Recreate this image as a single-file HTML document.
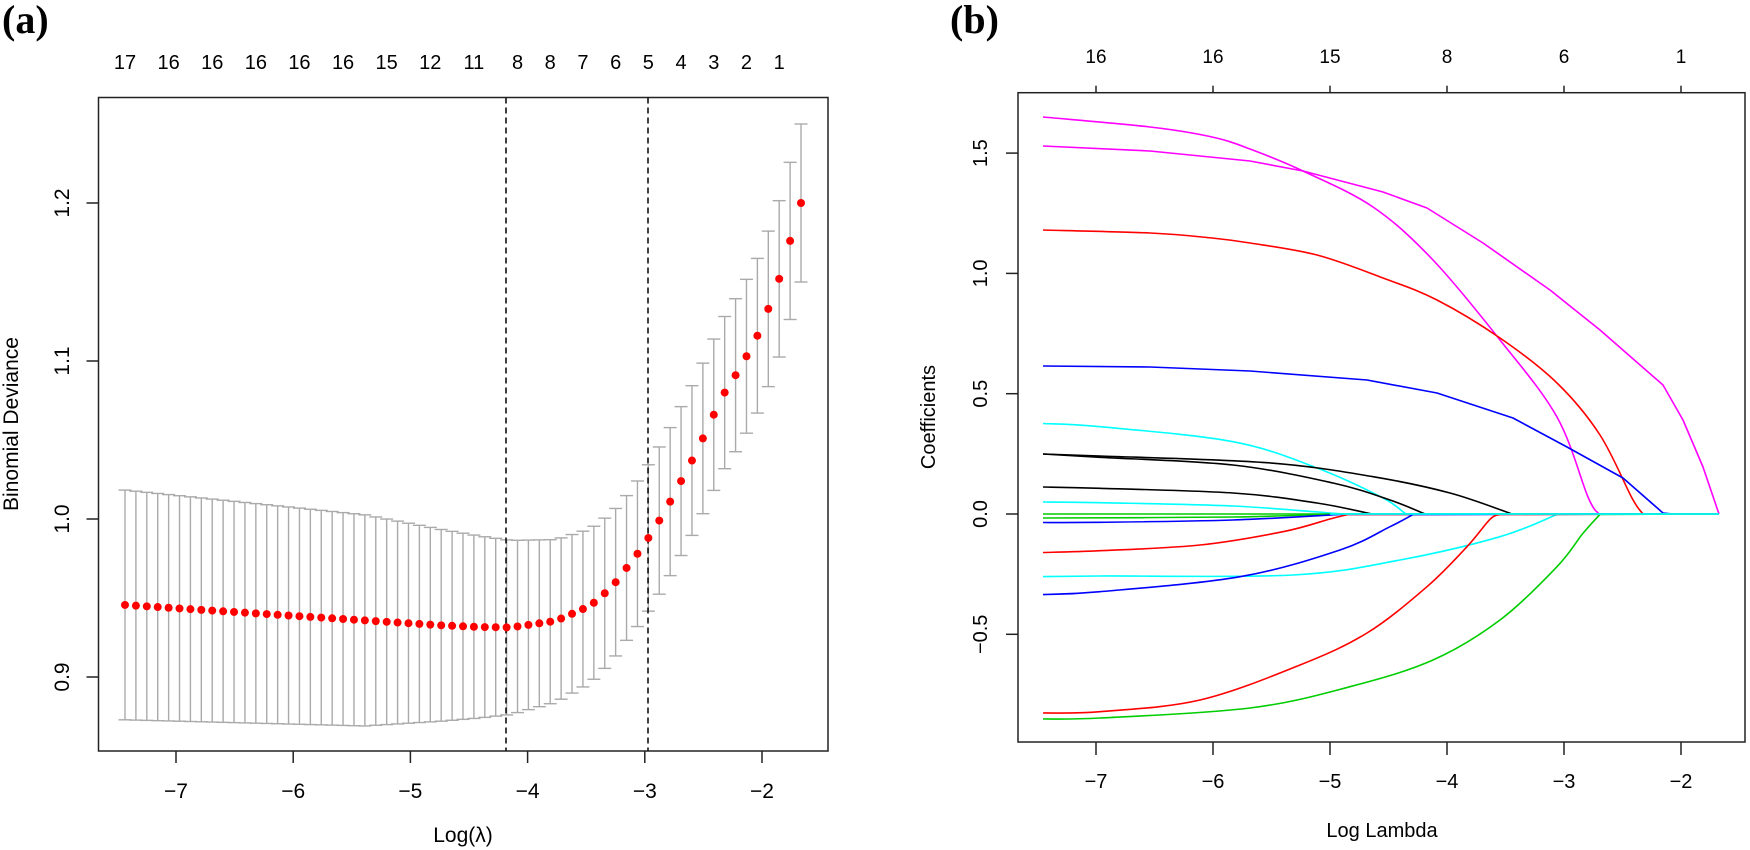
<!DOCTYPE html>
<html><head><meta charset="utf-8">
<style>
html,body{margin:0;padding:0;background:#fff;}
svg{display:block;}
text{font-family:"Liberation Sans",Arial,sans-serif;fill:#000;}
</style></head>
<body>
<svg id="s" width="1750" height="850" viewBox="0 0 1750 850" xmlns="http://www.w3.org/2000/svg">
<text x="2" y="33" style="font-family:'Liberation Serif',serif;font-weight:bold;font-size:40px">(a)</text>
<text x="950" y="33" style="font-family:'Liberation Serif',serif;font-weight:bold;font-size:40px">(b)</text>
<g id="ga"></g>
<g id="gb"></g>
</svg>
<script>
(function(){
var NS="http://www.w3.org/2000/svg";
function el(p,t,a,txt){var e=document.createElementNS(NS,t);for(var k in a)e.setAttribute(k,a[k]);if(txt!==undefined)e.textContent=txt;p.appendChild(e);return e;}
var ga=document.getElementById('ga'), gb=document.getElementById('gb');
// ---------- Panel a ----------
var L=98.5,R=828,T=97.5,B=751;
function ya(v){return 677-(v-0.9)*1580;}
function xa(v){return 176+(v+7)*117.2;}
var m=[];
for(var i=0;i<30;i++)m.push(0.9456-0.0129*i/29);
m=m.concat([0.9324,0.9321,0.9318,0.9316,0.9315,0.9314,0.932,0.933,0.934,0.935,0.937,0.940,0.943,0.947,0.953,0.960,0.969,0.978,0.988,0.999,1.011,1.024,1.037,1.051,1.066,1.080,1.091,1.103,1.116,1.133,1.152,1.176,1.200]);
function h(i){
 if(i<=22)return 0.0727-0.0059*i/22;
 if(i<=35)return 0.0668-0.0114*(i-22)/13;
 if(i<=46)return 0.0554-0.0096*(i-35)/11;
 return 0.0458+0.0042*(i-46)/16;
}
var g=el(ga,'g',{stroke:'#aaaaaa','stroke-width':1.4,fill:'none'});
for(var i=0;i<63;i++){
 var x=125+i*(801-125)/62, u=ya(m[i]+h(i)), d=ya(m[i]-h(i));
 el(g,'line',{x1:x,y1:u,x2:x,y2:d});
 el(g,'line',{x1:x-6.5,y1:u,x2:x+6.5,y2:u});
 el(g,'line',{x1:x-6.5,y1:d,x2:x+6.5,y2:d});
}
el(ga,'line',{x1:506,y1:T,x2:506,y2:B,stroke:'#000','stroke-width':1.5,'stroke-dasharray':'6,4'});
el(ga,'line',{x1:648,y1:T,x2:648,y2:B,stroke:'#000','stroke-width':1.5,'stroke-dasharray':'6,4'});
for(var i=0;i<63;i++){var x=125+i*(801-125)/62;el(ga,'circle',{cx:x,cy:ya(m[i]),r:4,fill:'#ff0000'});}
el(ga,'rect',{x:L,y:T,width:R-L,height:B-T,fill:'none',stroke:'#222','stroke-width':1.5});
for(var v=-7;v<=-2;v++){var x=xa(v);el(ga,'line',{x1:x,y1:B,x2:x,y2:B+12,stroke:'#222','stroke-width':1.5});
 el(ga,'text',{x:x,y:798,'text-anchor':'middle','font-size':21},'\u2212'+(-v));}
[0.9,1.0,1.1,1.2].forEach(function(v){var y=ya(v);el(ga,'line',{x1:L-12,y1:y,x2:L,y2:y,stroke:'#222','stroke-width':1.5});
 el(ga,'text',{x:69,y:y,'text-anchor':'middle','font-size':21,transform:'rotate(-90 69 '+y+')'},v.toFixed(1));});
el(ga,'text',{x:463,y:842,'text-anchor':'middle','font-size':21},'Log(\u03bb)');
el(ga,'text',{x:18,y:424,'text-anchor':'middle','font-size':21,transform:'rotate(-90 18 424)'},'Binomial Deviance');
var lab=[[0,17],[4,16],[8,16],[12,16],[16,16],[20,16],[24,15],[28,12],[32,11],[36,8],[39,8],[42,7],[45,6],[48,5],[51,4],[54,3],[57,2],[60,1]];
lab.forEach(function(p){var x=125+p[0]*(801-125)/62;el(ga,'text',{x:x,y:69,'text-anchor':'middle','font-size':20},String(p[1]));});
// ---------- Panel b ----------
var L2=1018,R2=1745,T2=92.7,B2=742;
function xb(v){return 1096+(v+7)*117;}
var Z=514, XE=1719;
var curves=[
 ['#ff00ff',[[1043,117],[1150,127],[1212,137],[1250,149],[1303,171],[1373,207],[1433,260],[1500,340],[1557,417],[1588,497],[1599,514]],1],
 ['#ff00ff',[[1043,146],[1150,151],[1250,161],[1303,171],[1383,192],[1427,208],[1483,243],[1550,290],[1600,330],[1663,385],[1683,420],[1703,467],[1719,514]],0],
 ['#ff0000',[[1043,230],[1150,233],[1212,238],[1250,243],[1317,255],[1383,278],[1437,300],[1500,338],[1557,383],[1600,435],[1632,498],[1643,514]],1],
 ['#0000ff',[[1043,366],[1150,367],[1250,371],[1367,380],[1437,393],[1513,418],[1567,447],[1623,478],[1663,513],[1673,514]],0],
 ['#00ffff',[[1043,423.5],[1100,426.7],[1233,441.7],[1317,468],[1383,498],[1405,513.3],[1410,514]],1],
 ['#000000',[[1043,454],[1100,456],[1267,462.7],[1373,476.7],[1450,493],[1512,514]],1],
 ['#000000',[[1043,454],[1100,457.3],[1233,465],[1333,483],[1390,500],[1425,514]],1],
 ['#000000',[[1043,487],[1100,488.3],[1233,493],[1317,503],[1372,514]],1],
 ['#00ffff',[[1043,502],[1100,502.7],[1233,506],[1333,513.3],[1340,514]],1],
 ['#00cd00',[[1043,514],[1333,514]],0],
 ['#00cd00',[[1043,518],[1233,517],[1333,514]],1],
 ['#0000ff',[[1043,522.5],[1100,522.3],[1233,520],[1340,514.5]],1],
 ['#ff0000',[[1043,552.5],[1100,550.7],[1200,545],[1283,531.7],[1330,519],[1348,514.5]],1],
 ['#00ffff',[[1043,576.6],[1100,576],[1293,575],[1400,560],[1500,536.7],[1557,514.5]],1],
 ['#0000ff',[[1043,594.6],[1100,591.7],[1240,576.7],[1340,550],[1390,526.7],[1413,514.5]],1],
 ['#ff0000',[[1043,713],[1100,711.7],[1200,700],[1300,665],[1367,633],[1427,586.7],[1467,546.7],[1490,519.3],[1500,514.5]],1],
 ['#00cd00',[[1043,719],[1100,718],[1250,708],[1350,686.7],[1433,660],[1500,620],[1557,566.7],[1583,533.3],[1600,514.3]],1]
];
function smooth(p){
 var d='M'+p[0][0]+','+p[0][1];
 for(var i=0;i<p.length-1;i++){
  var p0=p[i>0?i-1:i],p1=p[i],p2=p[i+1],p3=p[i+2<p.length?i+2:i+1];
  var c1x=p1[0]+(p2[0]-p0[0])/6,c1y=p1[1]+(p2[1]-p0[1])/6;
  var c2x=p2[0]-(p3[0]-p1[0])/6,c2y=p2[1]-(p3[1]-p1[1])/6;
  d+=' C'+c1x.toFixed(1)+','+c1y.toFixed(1)+' '+c2x.toFixed(1)+','+c2y.toFixed(1)+' '+p2[0]+','+p2[1];
 }
 return d;
}
function poly(p){return 'M'+p.map(function(q){return q[0]+','+q[1];}).join(' L');}
curves.forEach(function(c){
 var d=(c[2]?smooth(c[1]):poly(c[1]))+' L'+XE+','+Z;
 el(gb,'path',{d:d,fill:'none',stroke:c[0],'stroke-width':1.6,'stroke-linejoin':'round'});
});
el(gb,'line',{x1:1330,y1:Z,x2:XE,y2:Z,stroke:'#00ffff','stroke-width':1.8});
el(gb,'rect',{x:L2,y:T2,width:R2-L2,height:B2-T2,fill:'none',stroke:'#222','stroke-width':1.5});
var top=[16,16,15,8,6,1];
for(var v=-7;v<=-2;v++){var x=xb(v);
 el(gb,'line',{x1:x,y1:B2,x2:x,y2:B2+13,stroke:'#222','stroke-width':1.5});
 el(gb,'text',{x:x,y:788,'text-anchor':'middle','font-size':20},'\u2212'+(-v));
 el(gb,'line',{x1:x,y1:T2,x2:x,y2:T2-7,stroke:'#222','stroke-width':1.5});
 el(gb,'text',{x:x,y:63,'text-anchor':'middle','font-size':19},String(top[v+7]));
}
[-0.5,0,0.5,1.0,1.5].forEach(function(v){var y=Z-v*240.6;
 el(gb,'line',{x1:L2-12,y1:y,x2:L2,y2:y,stroke:'#222','stroke-width':1.5});
 var s=(v<0?'\u2212':'')+Math.abs(v).toFixed(1);
 el(gb,'text',{x:987,y:y,'text-anchor':'middle','font-size':20,transform:'rotate(-90 987 '+y+')'},s);});
el(gb,'text',{x:1382,y:837,'text-anchor':'middle','font-size':20},'Log Lambda');
el(gb,'text',{x:935,y:417,'text-anchor':'middle','font-size':20,transform:'rotate(-90 935 417)'},'Coefficients');
})();
</script>
</body></html>
